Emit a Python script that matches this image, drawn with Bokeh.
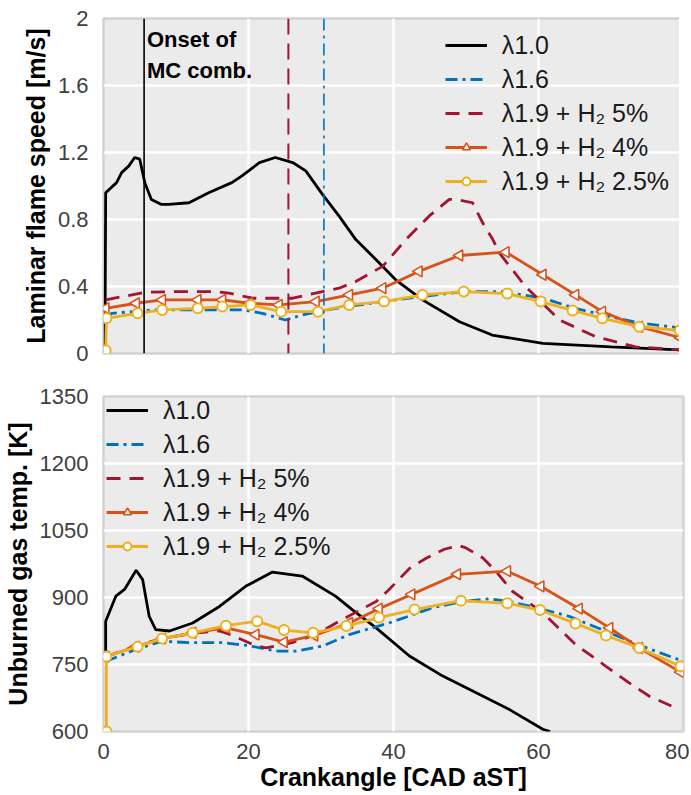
import numpy as np
from bokeh.plotting import figure
from bokeh.layouts import column
from bokeh.models import Span, Legend, LegendItem, FixedTicker
from bokeh.embed import file_html
from bokeh.resources import INLINE
from bokeh.core.properties import value

# ---------------- data ----------------
LABELS = ["λ1.0", "λ1.6", "λ1.9 + H₂ 5%", "λ1.9 + H₂ 4%", "λ1.9 + H₂ 2.5%"]
COLORS = ["#000000", "#0072BD", "#A2142F", "#D95319", "#EDB120"]

X_TICKS = [0, 20, 40, 60, 80]
X_TICK_LABELS = ["0", "20", "40", "60", "80"]
SL_TICKS = [0, 0.4, 0.8, 1.2, 1.6, 2]
SL_TICK_LABELS = ["0", "0.4", "0.8", "1.2", "1.6", "2"]
T_TICKS = [600, 750, 900, 1050, 1200, 1350]
T_TICK_LABELS = ["600", "750", "900", "1050", "1200", "1350"]

# onset of main-chamber combustion [CAD aST] for l1.0, l1.9+H2 5%, l1.6
ONSET_CAD = [5.6, 25.5, 30.4]

# --- laminar flame speed [m/s]
sl_l10_x = [0.2, 0.3, 1.8, 2.5, 3.5, 4.3, 5.0, 5.7, 6.6, 8.0, 9.0, 11.8, 14.5, 17.7, 19.1, 21.5,
            23.7, 26.1, 27.9, 30.2, 32.5, 34.8, 37.6, 40.3, 44.0, 49.1, 53.6, 60.6, 70.0, 80.0]
sl_l10_y = [0.0, 0.96, 1.02, 1.08, 1.12, 1.17, 1.16, 1.02, 0.92, 0.89, 0.89, 0.90, 0.96, 1.02, 1.06, 1.14,
            1.17, 1.14, 1.09, 0.95, 0.82, 0.68, 0.56, 0.44, 0.32, 0.19, 0.11, 0.06, 0.04, 0.02]

sl_l16_x = [0.3, 1.2, 6.8, 15.0, 19.2, 21.9, 25.1, 27.4, 32.0, 38.5, 44.0, 49.8, 55.0, 60.6, 65.1,
            69.8, 74.3, 80.0]
sl_l16_y = [0.22, 0.24, 0.26, 0.26, 0.26, 0.24, 0.20, 0.23, 0.27, 0.31, 0.34, 0.37, 0.37, 0.33, 0.27,
            0.22, 0.18, 0.15]

sl_h5_x = [0.3, 5.8, 10.4, 15.5, 17.3, 20.6, 24.7, 26.1, 30.2, 32.5, 34.8, 38.5, 41.7, 44.9, 47.7,
           48.6, 50.9, 52.3, 53.7, 54.6, 58.2, 62.9, 67.9, 73.4, 80.0]
sl_h5_y = [0.32, 0.366, 0.37, 0.37, 0.36, 0.33, 0.33, 0.33, 0.37, 0.39, 0.43, 0.52, 0.68, 0.82, 0.92,
           0.92, 0.90, 0.78, 0.68, 0.60, 0.40, 0.20, 0.10, 0.04, 0.02]

sl_h4_x = [0.3, 4.5, 8.1, 13.0, 16.4, 20.1, 24.2, 29.3, 33.9, 38.5, 43.5, 49.1, 55.5, 60.6, 65.1,
           68.8, 73.9, 79.6]
sl_h4_y = [0.27, 0.30, 0.32, 0.32, 0.32, 0.30, 0.29, 0.31, 0.35, 0.39, 0.49, 0.585, 0.605, 0.47, 0.35,
           0.25, 0.16, 0.094]

sl_h25_x = [0.3, 0.4, 4.7, 8.1, 13.0, 16.4, 20.3, 24.5, 29.6, 33.9, 38.7, 44.0, 49.7, 55.7, 60.3,
            64.7, 68.8, 73.9, 79.5]
sl_h25_y = [0.02, 0.21, 0.24, 0.26, 0.27, 0.28, 0.29, 0.25, 0.25, 0.29, 0.31, 0.35, 0.37, 0.358, 0.31,
            0.257, 0.21, 0.16, 0.137]

# --- unburned gas temperature [K]
t_l10_x = [0.3, 0.3, 1.7, 2.9, 4.5, 5.4, 6.3, 7.2, 9.1, 12.3, 16.0, 19.6, 23.3, 27.4, 32.0, 34.3,
           37.6, 42.2, 46.8, 51.4, 56.0, 60.6, 61.6]
t_l10_y = [765, 847, 903, 918, 961, 940, 858, 828, 825, 843, 880, 925, 957, 948, 903, 873,
           832, 769, 724, 687, 649, 605, 600]

t_l16_x = [0.3, 4.5, 8.1, 11.8, 16.4, 20.1, 23.8, 26.5, 30.2, 33.9, 39.4, 45.4, 49.1, 53.2, 56.0,
           59.2, 64.2, 69.8, 74.3, 80.0]
t_l16_y = [757, 784, 802, 799, 799, 792, 780, 780, 791, 817, 843, 877, 890, 897, 891,
           879, 858, 821, 791, 757]

t_h5_x = [0.3, 4.5, 8.1, 12.3, 16.0, 17.8, 21.0, 22.4, 26.0, 29.3, 32.5, 37.6, 39.4, 42.2, 44.5,
          47.0, 49.1, 50.0, 52.3, 54.1, 56.4, 60.6, 65.1, 69.3, 72.5, 75.3, 78.9]
t_h5_y = [767, 792, 808, 820, 825, 815, 792, 787, 799, 817, 847, 891, 918, 965, 988,
          1008, 1016, 1011, 989, 959, 914, 866, 795, 746, 709, 679, 653]

t_h4_x = [0.3, 4.5, 8.1, 12.3, 16.9, 21.0, 24.9, 29.1, 33.9, 38.0, 42.5, 48.8, 55.7, 60.3, 65.6,
          69.8, 73.9, 79.6]
t_h4_y = [768, 790, 808, 821, 832, 817, 800, 815, 843, 875, 907, 952, 959, 925, 875,
          832, 787, 733]

t_h25_x = [0.4, 0.4, 4.7, 8.1, 12.3, 16.9, 21.2, 24.9, 28.9, 33.5, 38.0, 42.9, 49.3, 55.7, 60.2,
           65.1, 69.3, 73.9, 79.6]
t_h25_y = [600, 768, 790, 808, 821, 837, 847, 827, 821, 836, 855, 873, 893, 887, 872,
           842, 815, 787, 746]

# ---------------- styling helpers ----------------
FONT = "Liberation Sans"
RED_DASH = "14 9"
BLUE_DASH = "12 5 3 5"


def make_fig(y_range, y_ticks, y_labels, y_title, top_border, bottom_border, show_x):
    p = figure(frame_width=580, frame_height=335, x_range=(0, 80), y_range=y_range,
               output_backend="svg", toolbar_location=None,
               min_border_left=93, min_border_right=6,
               min_border_top=top_border, min_border_bottom=bottom_border)
    p.background_fill_color = "#ebebeb"
    p.border_fill_color = "white"
    p.outline_line_color = "#d2d2d2"
    p.outline_line_width = 2.5
    p.xgrid.ticker = FixedTicker(ticks=X_TICKS)
    p.ygrid.ticker = FixedTicker(ticks=y_ticks)
    for g in (p.xgrid, p.ygrid):
        g.grid_line_color = "white"
        g.grid_line_width = 2.5
    for ax in (p.xaxis, p.yaxis):
        ax.axis_line_color = None
        ax.major_tick_line_color = None
        ax.minor_tick_line_color = None
        ax.major_label_text_font = FONT
        ax.major_label_text_font_size = "22px"
        ax.major_label_text_color = "#404040"
        ax.axis_label_text_font = FONT
        ax.axis_label_text_font_size = "25px"
        ax.axis_label_text_font_style = "bold"
        ax.axis_label_text_color = "black"
    p.yaxis.ticker = FixedTicker(ticks=y_ticks)
    p.yaxis.major_label_overrides = dict(zip(y_ticks, y_labels))
    p.yaxis.axis_label = y_title
    p.yaxis.major_label_standoff = 9
    p.yaxis.axis_label_standoff = 5
    p.xaxis.ticker = FixedTicker(ticks=X_TICKS)
    p.xaxis.major_label_overrides = dict(zip(X_TICKS, X_TICK_LABELS))
    p.xaxis.major_label_standoff = 6
    p.xaxis.axis_label_standoff = 1
    if show_x:
        p.xaxis.axis_label = "Crankangle [CAD aST]"
    else:
        p.xaxis.visible = False
    return p


def draw_series(p, series):
    (x0, y0), (x1, y1), (x2, y2), (x3, y3), (x4, y4) = series
    r0 = p.line(x0, y0, line_color=COLORS[0], line_width=2.8)
    r1 = p.line(x1, y1, line_color=COLORS[1], line_width=2.8, line_dash=BLUE_DASH)
    r2 = p.line(x2, y2, line_color=COLORS[2], line_width=2.8, line_dash=RED_DASH)
    r3 = p.line(x3, y3, line_color=COLORS[3], line_width=2.8)
    r3m = p.scatter(x3, y3, marker="triangle", angle=90, angle_units="deg", size=11,
                    line_color=COLORS[3], fill_color="white", line_width=1.6)
    r4 = p.line(x4, y4, line_color=COLORS[4], line_width=2.8)
    r4m = p.scatter(x4, y4, marker="circle", size=10,
                    line_color=COLORS[4], fill_color="white", line_width=2)
    return [[r0], [r1], [r2], [r3, r3m], [r4, r4m]]


def add_legend(p, groups, loc):
    items = [LegendItem(label=LABELS[i], renderers=groups[i]) for i in range(5)]
    leg = Legend(items=items, location=loc, background_fill_alpha=0,
                 border_line_color=None, label_text_font=FONT,
                 label_text_font_size="25px", label_text_color="#1a1a1a",
                 glyph_width=42, glyph_height=20, label_height=30, spacing=4,
                 padding=6, label_standoff=15, margin=0)
    p.add_layout(leg)


# ---------------- top: laminar flame speed ----------------
p1 = make_fig((0, 2), SL_TICKS, SL_TICK_LABELS, "Laminar flame speed [m/s]", 18, 15, False)
g1 = draw_series(p1, [(sl_l10_x, sl_l10_y), (sl_l16_x, sl_l16_y), (sl_h5_x, sl_h5_y),
                      (sl_h4_x, sl_h4_y), (sl_h25_x, sl_h25_y)])
p1.add_layout(Span(location=ONSET_CAD[0], dimension="height", line_color="black", line_width=1.6))
p1.add_layout(Span(location=ONSET_CAD[1], dimension="height", line_color=COLORS[2],
                   line_width=2, line_dash="16 9"))
p1.add_layout(Span(location=ONSET_CAD[2], dimension="height", line_color=COLORS[1],
                   line_width=1.6, line_dash=BLUE_DASH))
p1.text(x=[6.0, 6.0], y=[1.875, 1.687], text=["Onset of", "MC comb."],
        text_font=value(FONT), text_font_style="bold", text_font_size="22px",
        text_baseline="middle", text_align="left", text_color="black")
add_legend(p1, g1, (355, 157))

# ---------------- bottom: unburned gas temperature ----------------
p2 = make_fig((600, 1350), T_TICKS, T_TICK_LABELS, "Unburned gas temp. [K]", 28, 20, True)
g2 = draw_series(p2, [(t_l10_x, t_l10_y), (t_l16_x, t_l16_y), (t_h5_x, t_h5_y),
                      (t_h4_x, t_h4_y), (t_h25_x, t_h25_y)])
add_legend(p2, g2, (3, 170))

layout = column(p1, p2)
open("out.html", "w").write(file_html(layout, INLINE))
